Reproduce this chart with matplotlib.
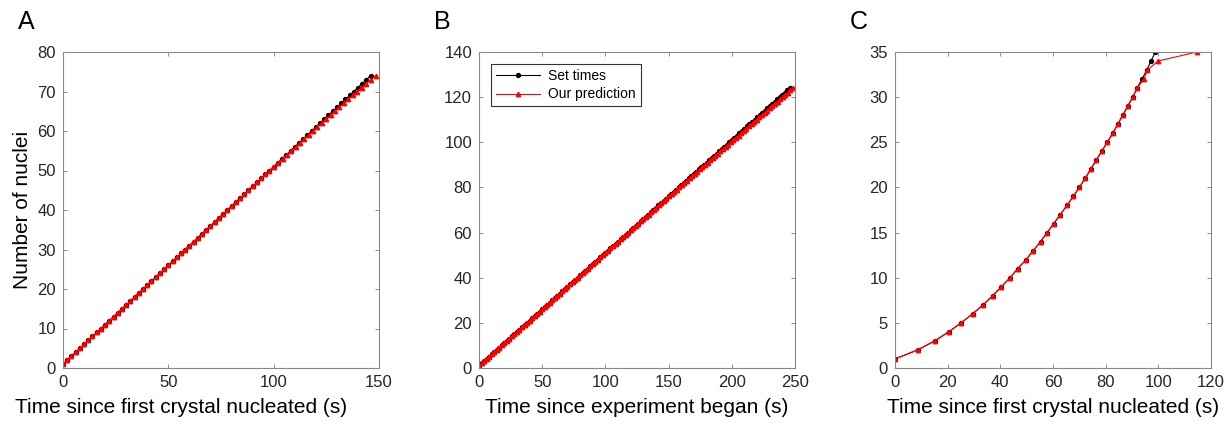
import matplotlib.pyplot as plt

plt.rcParams['font.family'] = ['Liberation Sans', 'DejaVu Sans']

# Panel A: time since first crystal nucleated (s) vs number of nuclei
a_nuclei = [1, 2, 3, 4, 5, 6, 7, 8, 9, 10, 11, 12, 13, 14, 15, 16, 17, 18, 19, 20,
            21, 22, 23, 24, 25, 26, 27, 28, 29, 30, 31, 32, 33, 34, 35, 36, 37, 38, 39, 40,
            41, 42, 43, 44, 45, 46, 47, 48, 49, 50, 51, 52, 53, 54, 55, 56, 57, 58, 59, 60,
            61, 62, 63, 64, 65, 66, 67, 68, 69, 70, 71, 72, 73, 74]
a_set = [0, 2, 4, 6, 8, 10, 12, 14, 16, 18, 20, 22, 24, 26, 28, 30, 32, 34, 36, 38,
         40, 42, 44, 46, 48, 50, 52, 54, 56, 58, 60, 62, 64, 66, 68, 70, 72, 74, 76, 78,
         80, 82, 84, 86, 88, 90, 92, 94, 96, 98, 100, 102, 104, 106, 108, 110, 112, 114, 116, 118,
         120, 122, 124, 126, 128, 130, 132, 134, 136, 138, 140, 142, 144, 146]
a_pred = [0, 2, 4, 6, 8, 10, 12, 14, 16, 18, 20, 22, 24, 26, 28, 30, 32, 34, 36, 38,
          40, 42, 44, 46, 48, 50, 52, 54, 56, 58, 60, 62, 64, 66, 68, 70, 72, 74, 76, 78,
          80, 82, 84, 86, 88, 90, 92, 94, 96, 98, 100.1, 102.2, 104.2, 106.3, 108.3, 110.4,
          112.4, 114.5, 116.6, 118.6, 120.7, 122.8, 124.9, 127.0, 129.1, 131.2, 133.3, 135.4,
          137.5, 139.7, 141.8, 143.9, 146.1, 148.4]

# Panel B: time since experiment began (s)
b_nuclei = [1, 2, 3, 4, 5, 6, 7, 8, 9, 10, 11, 12, 13, 14, 15, 16, 17, 18, 19, 20,
            21, 22, 23, 24, 25, 26, 27, 28, 29, 30, 31, 32, 33, 34, 35, 36, 37, 38, 39, 40,
            41, 42, 43, 44, 45, 46, 47, 48, 49, 50, 51, 52, 53, 54, 55, 56, 57, 58, 59, 60,
            61, 62, 63, 64, 65, 66, 67, 68, 69, 70, 71, 72, 73, 74, 75, 76, 77, 78, 79, 80,
            81, 82, 83, 84, 85, 86, 87, 88, 89, 90, 91, 92, 93, 94, 95, 96, 97, 98, 99, 100,
            101, 102, 103, 104, 105, 106, 107, 108, 109, 110, 111, 112, 113, 114, 115, 116,
            117, 118, 119, 120, 121, 122, 123, 124]
b_set = [0, 2, 4, 6, 8, 10, 12, 14, 16, 18, 20, 22, 24, 26, 28, 30, 32, 34, 36, 38,
         40, 42, 44, 46, 48, 50, 52, 54, 56, 58, 60, 62, 64, 66, 68, 70, 72, 74, 76, 78,
         80, 82, 84, 86, 88, 90, 92, 94, 96, 98, 100, 102, 104, 106, 108, 110, 112, 114, 116, 118,
         120, 122, 124, 126, 128, 130, 132, 134, 136, 138, 140, 142, 144, 146, 148, 150, 152, 154,
         156, 158, 160, 162, 164, 166, 168, 170, 172, 174, 176, 178, 180, 182, 184, 186, 188, 190,
         192, 194, 196, 198, 200, 202, 204, 206, 208, 210, 212, 214, 216, 218, 220, 222, 224, 226,
         228, 230, 232, 234, 236, 238, 240, 242, 244, 246]
b_pred = [0, 2, 4, 6, 8, 10, 12, 14, 16, 18, 20, 22, 24, 26, 28, 30, 32, 34, 36, 38,
          40, 42, 44, 46, 48, 50, 52, 54, 56, 58, 60, 62, 64, 66, 68, 70, 72, 74, 76, 78,
          80, 82, 84, 86, 88, 90, 92, 94, 96, 98, 100, 102, 104, 106, 108, 110, 112, 114, 116, 118,
          120.0, 122.0, 124.0, 126.0, 128.0, 130.1, 132.1, 134.1, 136.1, 138.1, 140.2, 142.2,
          144.2, 146.2, 148.3, 150.3, 152.3, 154.4, 156.4, 158.4, 160.4, 162.5, 164.5, 166.6,
          168.6, 170.6, 172.7, 174.7, 176.7, 178.8, 180.8, 182.9, 184.9, 186.9, 189.0, 191.0,
          193.1, 195.1, 197.2, 199.2, 201.3, 203.3, 205.4, 207.4, 209.5, 211.5, 213.6, 215.6,
          217.7, 219.7, 221.8, 223.8, 225.9, 227.9, 230.0, 232.0, 234.1, 236.2, 238.2, 240.3,
          242.3, 244.4, 246.4, 248.5]

# Panel C: time since first crystal nucleated (s)
c_nuclei = [1, 2, 3, 4, 5, 6, 7, 8, 9, 10, 11, 12, 13, 14, 15, 16, 17, 18, 19, 20,
            21, 22, 23, 24, 25, 26, 27, 28, 29, 30, 31, 32, 33, 34, 35]
c_set = [0, 8.6, 15.1, 20.4, 25.1, 29.5, 33.5, 37.1, 40.4, 43.7, 46.6, 49.8, 52.5, 55.3,
         57.8, 60.3, 62.8, 65.3, 67.7, 70.0, 72.2, 74.3, 76.4, 78.5, 80.6, 82.7, 84.6, 86.5,
         88.4, 90.3, 91.9, 93.8, 95.6, 97.2, 98.9]
c_pred = [0, 8.6, 15.1, 20.4, 25.1, 29.5, 33.5, 37.1, 40.4, 43.7, 46.6, 49.8, 52.5, 55.3,
          57.8, 60.3, 62.8, 65.3, 67.7, 70.0, 72.2, 74.3, 76.4, 78.5, 80.6, 82.7, 84.6, 86.5,
          88.4, 90.3, 91.9, 94.6, 95.8, 99.9, 114.7]

fig = plt.figure(figsize=(12.31, 4.29), dpi=100)

W, H = 1231, 429
lefts = [63, 479, 895]
ax_w, top, bot = 316, 52, 368

panels = [
    ('A', a_set, a_pred, a_nuclei, (0, 150), (0, 80), range(0, 151, 50), range(0, 81, 10),
     'Time since first crystal nucleated (s)'),
    ('B', b_set, b_pred, b_nuclei, (0, 250), (0, 140), range(0, 251, 50), range(0, 141, 20),
     'Time since experiment began (s)'),
    ('C', c_set, c_pred, c_nuclei, (0, 120), (0, 35), range(0, 121, 20), range(0, 36, 5),
     'Time since first crystal nucleated (s)'),
]

for left, (letter, xs, xp, yn, xlim, ylim, xt, yt, xlabel) in zip(lefts, panels):
    ax = fig.add_axes([left / W, (H - bot) / H, ax_w / W, (bot - top) / H])
    ax.plot(xs, yn, '-', color='black', marker='o', markersize=2.8, linewidth=0.8,
            label='Set times')
    ax.plot(xp, yn, '-', color='red', marker='^', markersize=3.2, linewidth=0.8,
            label='Our prediction')
    ax.set_xlim(*xlim)
    ax.set_ylim(*ylim)
    ax.set_xticks(list(xt))
    ax.set_yticks(list(yt))
    ax.tick_params(direction='in', top=True, right=True, length=3, width=0.6,
                   colors='#777777', labelcolor='#262626', labelsize=12, pad=5)
    for s in ax.spines.values():
        s.set_color('#888888')
        s.set_linewidth(0.8)
    ax.set_xlabel(xlabel, fontsize=15, color='black', labelpad=6)
    fig.text((left - 45) / W, 1 - 22 / H, letter, fontsize=18, va='center', ha='left')
    if letter == 'A':
        ax.xaxis.set_label_coords(0.375, -0.095)
        ax.xaxis.label.set_va('top')
        ax.set_ylabel('Number of nuclei', fontsize=15, color='black', labelpad=4)
    if letter == 'B':
        leg = ax.legend(loc='upper left', fontsize=10, fancybox=False, framealpha=1,
                        edgecolor='#333333', borderpad=0.35, handlelength=3.2,
                        handletextpad=0.6, labelspacing=0.35, borderaxespad=0,
                        bbox_to_anchor=(0.037, 0.963))
        leg.get_frame().set_linewidth(0.8)

fig.savefig('out.png', dpi=100)
